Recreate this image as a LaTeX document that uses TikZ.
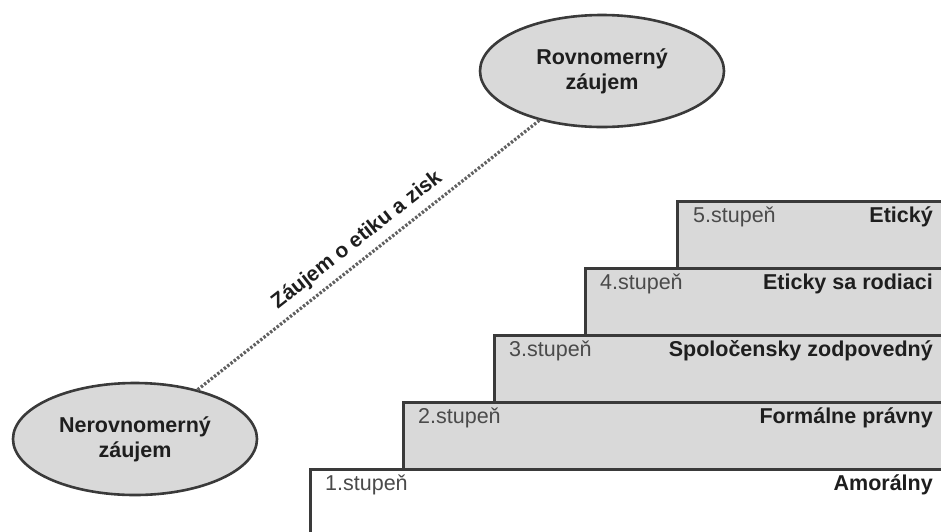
\documentclass[tikz,border=0pt]{standalone}
\usepackage{fontspec}
\setmainfont{Liberation Sans}
\usetikzlibrary{shapes.geometric}
\definecolor{boxgray}{HTML}{D9D9D9}
\definecolor{edge}{HTML}{3A3A3A}
\definecolor{darktxt}{HTML}{1E1E1E}
\definecolor{lighttxt}{HTML}{4A4A4A}
\tikzset{
  stepbox/.style={draw=edge, line width=3pt, fill=boxgray},
  stepnum/.style={anchor=base west, inner sep=0pt, text=lighttxt, font=\fontsize{21.5}{25}\selectfont},
  stepname/.style={anchor=base east, inner sep=0pt, text=darktxt, font=\fontsize{21.5}{25}\selectfont\bfseries},
  oval/.style={ellipse, draw=edge, line width=2.6pt, fill=boxgray, minimum width=244pt, minimum height=112pt, inner sep=0pt, align=center, text=darktxt, font=\fontsize{21.5}{25}\selectfont\bfseries},
  dotline/.style={draw=edge!80, line width=3.2pt, dash pattern=on 2.4pt off 1.8pt}
}
\begin{document}
\begin{tikzpicture}[x=1pt,y=-1pt]
\useasboundingbox (0,0) rectangle (941,531);
\clip (0,0) rectangle (941,531);
\fill[white] (0,0) rectangle (941,531);
% steps
\draw[stepbox, fill=white] (310,469) rectangle (960,545);
\draw[stepbox] (403,402) rectangle (960,469);
\draw[stepbox] (494,335) rectangle (960,402);
\draw[stepbox] (585,268) rectangle (960,335);
\draw[stepbox] (677,201) rectangle (960,268);
\node[stepnum] (n1) at (325,490) {1.stupeň};
\node[stepnum] (n2) at (418,423) {2.stupeň};
\node[stepnum] (n3) at (509,356) {3.stupeň};
\node[stepnum] (n4) at (600,289) {4.stupeň};
\node[stepnum] (n5) at (693,222) {5.stupeň};
\node[stepname] (l1) at (933,490) {Amorálny};
\node[stepname] (l2) at (933,423) {Formálne právny};
\node[stepname] (l3) at (933,356) {Spoločensky zodpovedný};
\node[stepname] (l4) at (933,289) {Eticky sa rodiaci};
\node[stepname] (l5) at (933,222) {Etický};
% ovals
\node[oval] (top) at (602,71) {Rovnomerný\\záujem};
\node[oval] (bot) at (135,439) {Nerovnomerný\\záujem};
\draw[dotline] (bot) -- node[midway, sloped, above=7pt, inner sep=0pt, text=darktxt, font=\fontsize{21}{25}\selectfont\bfseries] (lab) {Záujem o etiku a zisk} (top);
\end{tikzpicture}
\end{document}
